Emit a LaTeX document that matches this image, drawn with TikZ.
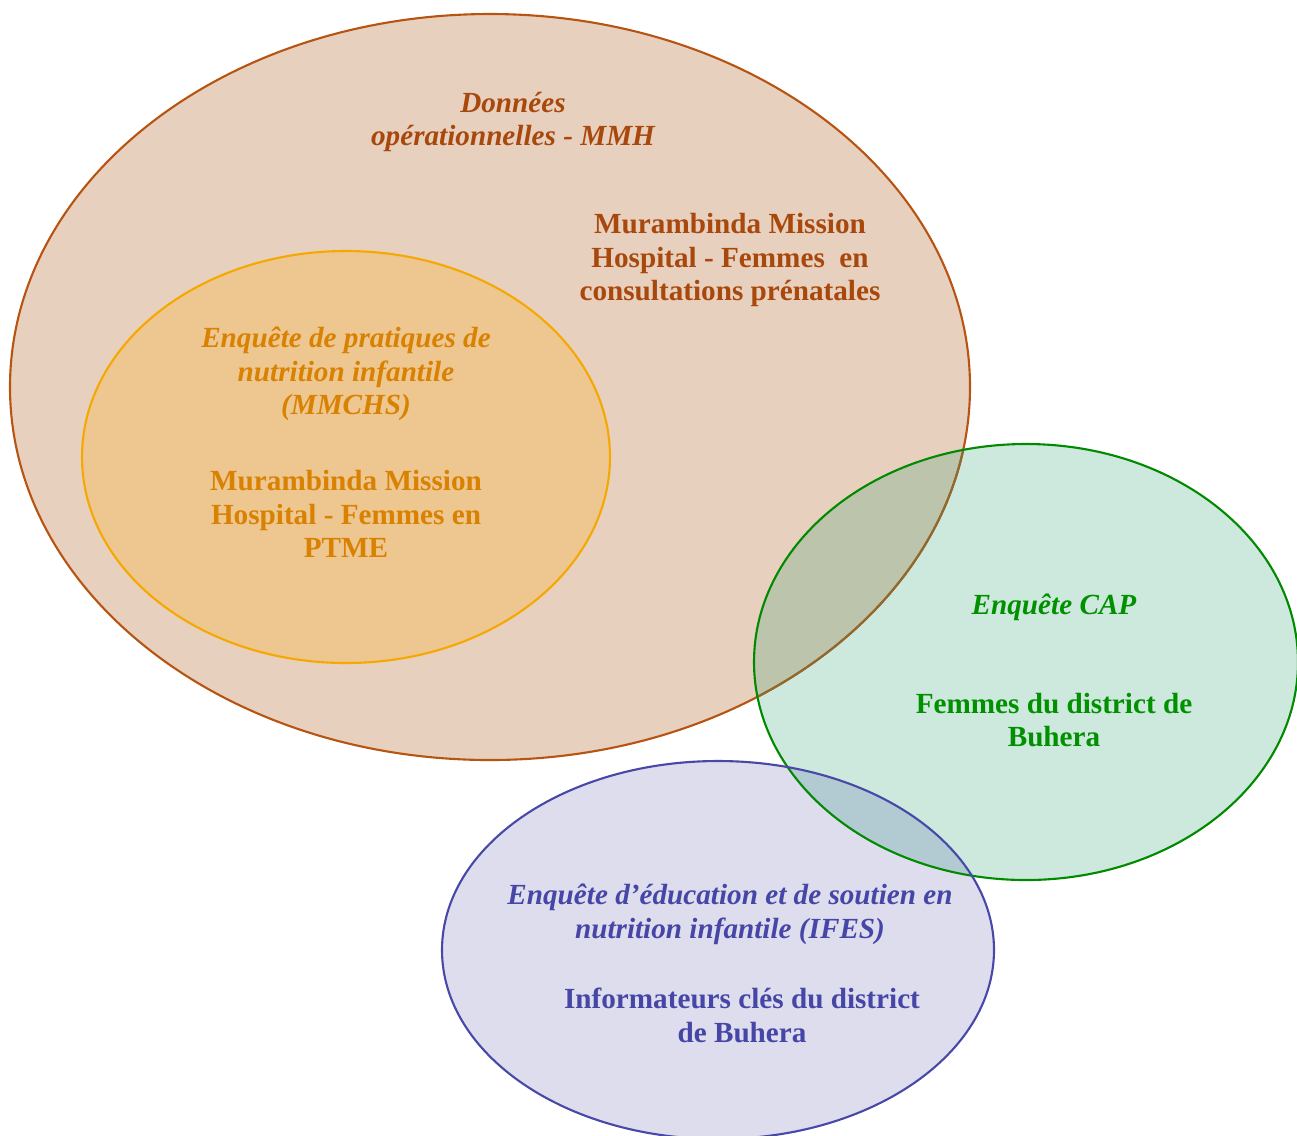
\documentclass[tikz,border=0pt]{standalone}
\usepackage{fontspec}
\setmainfont{Liberation Serif}
\definecolor{brownfill}{HTML}{E8D0BE}
\definecolor{brownline}{HTML}{B85412}
\definecolor{browntext}{HTML}{A8480C}
\definecolor{orangefill}{HTML}{EDC690}
\definecolor{orangeline}{HTML}{F5A800}
\definecolor{orangetext}{HTML}{D98100}
\definecolor{greenfill}{HTML}{CDE8DC}
\definecolor{greenline}{HTML}{008A00}
\definecolor{greentext}{HTML}{009000}
\definecolor{bluefill}{HTML}{DDDDEE}
\definecolor{blueline}{HTML}{4848A8}
\definecolor{bluetext}{HTML}{4646A6}
\definecolor{bgover}{HTML}{BCC4AC}
\definecolor{gbover}{HTML}{B2CAD2}
\definecolor{brownblend}{HTML}{8E6A2E}
\begin{document}
\begin{tikzpicture}[x=0.01cm,y=-0.01cm,
  txt/.style={align=center,inner sep=0pt,font=\bfseries\fontsize{8.3}{9.6}\selectfont},
  itxt/.style={txt,font=\bfseries\itshape\fontsize{8.3}{9.6}\selectfont},
  rim/.style={line width=0.6pt}]
\useasboundingbox (0,0) rectangle (1297,1135);
% fills
\fill[brownfill] (490,387) ellipse [x radius=480,y radius=373];
\fill[orangefill] (346,457) ellipse [x radius=264,y radius=206];
\fill[greenfill] (1026,662) ellipse [x radius=272,y radius=218];
\fill[bluefill] (718,950) ellipse [x radius=276,y radius=189];
% overlaps
\begin{scope}
  \clip (490,387) ellipse [x radius=480,y radius=373];
  \fill[bgover] (1026,662) ellipse [x radius=272,y radius=218];
\end{scope}
\begin{scope}
  \clip (1026,662) ellipse [x radius=272,y radius=218];
  \fill[gbover] (718,950) ellipse [x radius=276,y radius=189];
\end{scope}
% outlines
\draw[rim,brownline] (490,387) ellipse [x radius=480,y radius=373];
\begin{scope}
  \clip (1026,662) ellipse [x radius=272,y radius=218];
  \draw[rim,brownblend] (490,387) ellipse [x radius=480,y radius=373];
\end{scope}
\draw[rim,orangeline] (346,457) ellipse [x radius=264,y radius=206];
\draw[rim,greenline] (1026,662) ellipse [x radius=272,y radius=218];
\draw[rim,blueline] (718,950) ellipse [x radius=276,y radius=189];
% texts
\node[itxt,text=browntext] (mmhtitle) at (513,122) {Données\\opérationnelles - MMH};
\node[txt,text=browntext] (mmhbody) at (730,260) {Murambinda Mission\\Hospital - Femmes\ \ en\\consultations prénatales};
\node[itxt,text=orangetext] (mmchstitle) at (346,374) {Enquête de pratiques de\\nutrition infantile\\(MMCHS)};
\node[txt,text=orangetext] (mmchsbody) at (346,514) {Murambinda Mission\\Hospital - Femmes en\\PTME};
\node[itxt,text=greentext] (captitle) at (1054,607) {Enquête CAP};
\node[txt,text=greentext] (capbody) at (1054,720) {Femmes du district de\\Buhera};
\node[itxt,text=bluetext] (ifestitle) at (730,914) {Enquête d’éducation et de soutien en\\nutrition infantile (IFES)};
\node[txt,text=bluetext] (ifesbody) at (742,1015) {Informateurs clés du district\\de Buhera};
\end{tikzpicture}
\end{document}
